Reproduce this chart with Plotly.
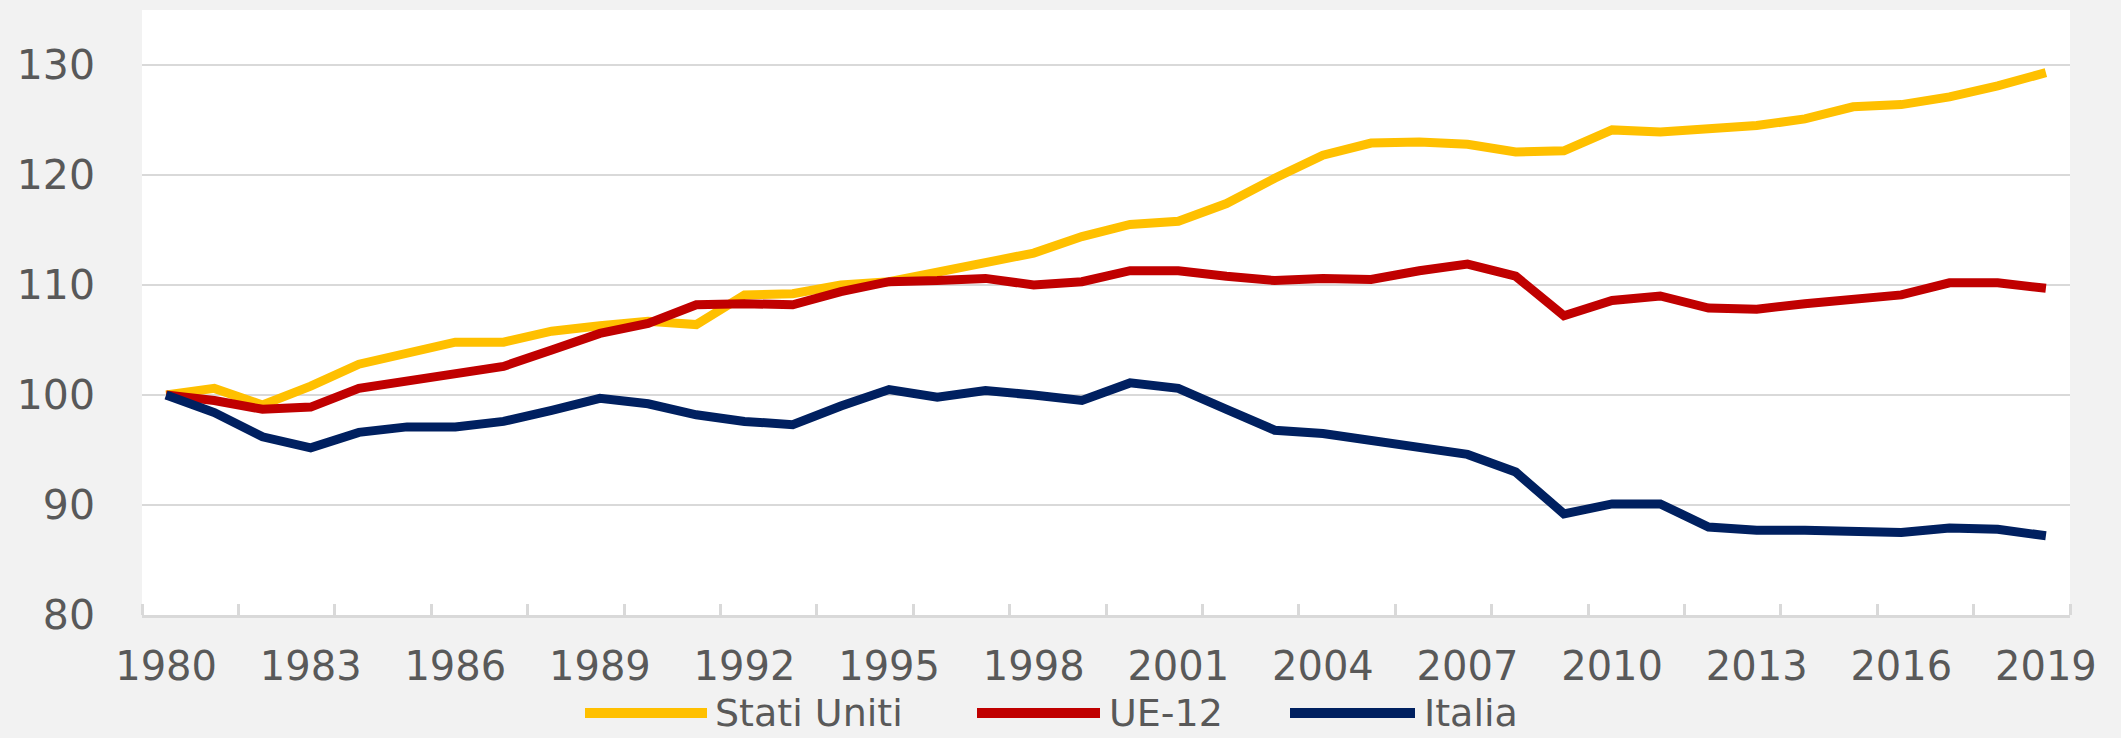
import plotly.graph_objects as go

years = list(range(1980, 2020))
stati_uniti = [100.0, 100.6, 99.1, 100.8, 102.8, 103.7, 104.8, 104.8, 105.8, 106.3,
               106.7, 106.4, 109.1, 109.2, 110.0, 110.3, 111.1, 112.0, 112.9, 114.4,
               115.5, 115.8, 117.4, 119.7, 121.8, 122.9, 123.0, 122.8, 122.1, 122.2,
               124.1, 123.9, 124.2, 124.5, 125.1, 126.2, 126.4, 127.1, 128.1, 129.3]
ue12 = [100.0, 99.5, 98.7, 98.9, 100.6, 101.3, 101.8, 102.6, 104.1, 105.6,
        106.5, 108.2, 108.3, 108.2, 109.4, 110.3, 110.4, 110.6, 110.0, 110.3,
        111.3, 111.3, 110.8, 110.4, 110.6, 110.5, 111.3, 111.9, 110.8, 107.2,
        108.6, 109.0, 107.9, 107.8, 108.3, 108.8, 109.1, 110.2, 110.2, 109.7]
italia = [100.0, 98.4, 96.2, 95.2, 96.6, 97.1, 97.1, 97.6, 98.6, 99.7,
          99.2, 98.2, 97.6, 97.3, 99.0, 100.5, 99.8, 100.4, 100.0, 99.5,
          101.1, 100.6, 98.7, 96.8, 96.5, 95.8, 95.2, 94.6, 93.0, 89.2,
          90.1, 90.1, 88.0, 87.7, 87.7, 87.6, 87.5, 87.9, 87.8, 87.2]

series_names = ["Stati Uniti", "UE-12", "Italia"]
series_colors = ["#FFC000", "#C00000", "#002060"]
x_tick_labels = [str(y) for y in range(1980, 2020, 3)]
y_tick_values = [80, 90, 100, 110, 120, 130]

W, H = 2121, 738
ML, MR, MT, MB = 142, 51, 10, 123
PW, PH = W - ML - MR, H - MT - MB

fig = go.Figure()
for name, vals, col in zip(series_names, [stati_uniti, ue12, italia], series_colors):
    fig.add_trace(go.Scatter(x=years, y=vals, mode="lines", name=name,
                             line=dict(color=col, width=9), showlegend=False))

x_font = dict(family="DejaVu Sans, Verdana, sans-serif", size=40, color="#595959")
y_font = dict(family="DejaVu Sans, Verdana, sans-serif", size=41, color="#595959")

fig.update_layout(
    width=W, height=H,
    margin=dict(l=ML, r=MR, t=MT, b=MB),
    paper_bgcolor="#F2F2F2", plot_bgcolor="#FFFFFF",
    xaxis=dict(range=[1979.5, 2019.5], tickmode="array", automargin=False,
               tickvals=[int(t) for t in x_tick_labels], ticktext=x_tick_labels,
               ticks="", showgrid=False, zeroline=False,
               showline=True, linecolor="#D9D9D9", linewidth=3,
               tickfont=x_font, ticklabelstandoff=14,
               minor=dict(tick0=1979.5, dtick=2, ticks="inside", ticklen=11,
                          tickcolor="#D9D9D9", tickwidth=3, showgrid=False)),
    yaxis=dict(range=[80, 135], tickmode="array", tickvals=y_tick_values,
               automargin=False,
               ticks="", showgrid=True, gridcolor="#D9D9D9", gridwidth=2,
               zeroline=False, showline=False, tickfont=y_font,
               ticklabelstandoff=46),
)

# custom legend (long line swatches as in the original); page pixel positions
legend_items = [(585, 707, 713), (977, 1100, 1107), (1290, 1415, 1422)]
ly = (615 - 713) / PH
for (x0, x1, xt), name, col in zip(legend_items, series_names, series_colors):
    fig.add_shape(type="line", xref="paper", yref="paper",
                  x0=(x0 - ML) / PW, x1=(x1 - ML) / PW, y0=ly, y1=ly,
                  line=dict(color=col, width=10))
    fig.add_annotation(xref="paper", yref="paper", x=(xt - ML) / PW, y=ly,
                       xanchor="left", yanchor="middle", showarrow=False,
                       text=name, font=dict(family="DejaVu Sans, sans-serif",
                                            size=38, color="#595959"))

fig.write_html("out.html", config={"displayModeBar": False},
               post_script="document.body.style.margin='0';"
                           "document.body.style.background='#F2F2F2';")
